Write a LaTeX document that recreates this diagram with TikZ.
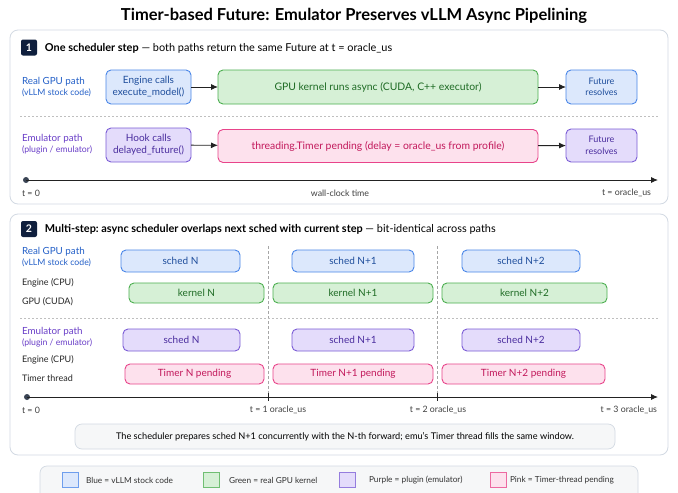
\documentclass[tikz,border=0pt]{standalone}
\usepackage{fontspec}
\setmainfont{Lato}
\usetikzlibrary{arrows.meta}
\definecolor{bluefill}{HTML}{DCE8FC}
\definecolor{bluedraw}{HTML}{4A86E8}
\definecolor{bluetext}{HTML}{1F4E9C}
\definecolor{greenfill}{HTML}{D6F0D6}
\definecolor{greendraw}{HTML}{4CAF50}
\definecolor{greentext}{HTML}{1E6B24}
\definecolor{purplefill}{HTML}{E4DCFB}
\definecolor{purpledraw}{HTML}{7B5CD6}
\definecolor{purpletext}{HTML}{4A2D9E}
\definecolor{pinkfill}{HTML}{FDE1ED}
\definecolor{pinkdraw}{HTML}{E8448A}
\definecolor{pinktext}{HTML}{C2185B}
\definecolor{navy}{HTML}{0F1F3D}
\definecolor{panelline}{HTML}{D3DAE3}
\definecolor{notefill}{HTML}{F6F7F8}
\definecolor{labblue}{HTML}{2460C8}
\definecolor{labpurple}{HTML}{6A3FC8}
\definecolor{axis}{HTML}{222222}
\definecolor{axisdot}{HTML}{3A4454}
\begin{document}
\begin{tikzpicture}[x=1pt,y=-1pt,
  every node/.style={inner sep=0pt,outer sep=0pt},
  panel/.style={draw=panelline,line width=0.8pt,rounded corners=8pt,fill=white},
  bx/.style={rounded corners=5pt,line width=0.9pt,align=center,font=\fontsize{10}{12}\selectfont},
  bluebox/.style={bx,draw=bluedraw,fill=bluefill,text=bluetext},
  greenbox/.style={bx,draw=greendraw,fill=greenfill,text=greentext},
  purplebox/.style={bx,draw=purpledraw,fill=purplefill,text=purpletext},
  pinkbox/.style={bx,draw=pinkdraw,fill=pinkfill,text=pinktext},
  pathlab/.style={anchor=west,align=left,font=\fontsize{9.8}{12}\selectfont},
  rowlab/.style={anchor=west,font=\fontsize{9}{10}\selectfont,text=black!85},
  ticklab/.style={font=\fontsize{8.8}{10}\selectfont,text=black!75},
  conn/.style={-{Latex[length=7pt,width=6pt]},line width=0.9pt,draw=axis},
  sep/.style={draw=black!25,line width=0.6pt,dash pattern=on 2pt off 2pt},
  vsep/.style={draw=black!35,line width=0.6pt,dash pattern=on 2.5pt off 2.5pt},
  badge/.style={fill=navy,text=white,rounded corners=2pt,minimum size=16pt,font=\bfseries\fontsize{10.5}{12}\selectfont},
  legsq/.style={draw,line width=0.7pt,minimum width=16pt,minimum height=15pt},
  legtxt/.style={anchor=west,font=\fontsize{8.3}{10}\selectfont,text=black!80}
]
\useasboundingbox (0,0) rectangle (678,493);
\fill[white] (0,0) rectangle (678,493);

% title
\node[font=\bfseries\fontsize{16.5}{19}\selectfont] (title) at (354,16) {Timer-based Future: Emulator Preserves vLLM Async Pipelining};

% ---------------- Panel 1
\draw[panel] (10,30) rectangle (668,204);
\node[badge] (b1) at (29,47.5) {1};
\node[anchor=west,font=\fontsize{10.9}{12}\selectfont] (h1) at (45,48) {\textbf{One scheduler step} — both paths return the same Future at t = oracle\_us};

\node[pathlab] (rl1) at (22,87) {\textcolor{labblue}{Real GPU path}\\[-1pt]\textcolor{labblue}{\fontsize{8.7}{11}\selectfont(vLLM stock code)}};
\node[bluebox,minimum width=85pt,minimum height=34pt] (eng) at (148.5,87) {Engine calls\\execute\_model()};
\node[greenbox,minimum width=320pt,minimum height=34pt,font=\fontsize{10.4}{12}\selectfont] (gk) at (378,87) {GPU kernel runs async (CUDA, C++ executor)};
\node[bluebox,minimum width=71pt,minimum height=34pt,font=\fontsize{9}{11.5}\selectfont] (fr1) at (601.5,87) {Future\\resolves};
\draw[conn] (eng) -- (gk);
\draw[conn] (gk) -- (fr1);

\coordinate (s1a) at (20,116);
\coordinate (s1b) at (658,116);
\draw[sep] (s1a) -- (s1b);

\node[pathlab] (el1) at (22,144) {\textcolor{labpurple}{Emulator path}\\[-1pt]\textcolor{labpurple}{\fontsize{8.7}{11}\selectfont(plugin / emulator)}};
\node[purplebox,minimum width=85pt,minimum height=34pt] (hook) at (148.5,145) {Hook calls\\delayed\_future()};
\node[pinkbox,minimum width=320pt,minimum height=33pt,font=\fontsize{10.4}{12}\selectfont] (tp) at (378,146) {threading.Timer pending (delay = oracle\_us from profile)};
\node[purplebox,minimum width=71pt,minimum height=33pt,font=\fontsize{9}{11.5}\selectfont] (fr2) at (601.5,145.5) {Future\\resolves};
\draw[conn] (hook) -- (tp);
\draw[conn] (tp) -- (fr2);

\coordinate (ax1a) at (26,180);
\coordinate (ax1b) at (658,180);
\fill[axisdot] (ax1a) circle (3pt);
\draw[conn] (ax1a) -- (ax1b);
\node[ticklab,anchor=west] (t0a) at (22,193) {t = 0};
\node[ticklab] (wct) at (340,193) {wall-clock time};
\node[ticklab,anchor=east] (toa) at (651,193) {t = oracle\_us};

% ---------------- Panel 2
\draw[panel] (10,214) rectangle (668,455);
\node[badge] (b2) at (29,229) {2};
\node[anchor=west,font=\fontsize{10.9}{12}\selectfont] (h2) at (45,229) {\textbf{Multi-step:\ async scheduler overlaps next sched with current step} — bit-identical across paths};

\node[pathlab] (rl2) at (22,257) {\textcolor{labblue}{Real GPU path}\\[-1pt]\textcolor{labblue}{\fontsize{8.7}{11}\selectfont(vLLM stock code)}};
\node[rowlab] (ec1) at (22,283) {Engine (CPU)};
\node[rowlab] (gc) at (22,302) {GPU (CUDA)};

\coordinate (v1a) at (268,246);
\coordinate (v1b) at (268,396);
\coordinate (v2a) at (437,246);
\coordinate (v2b) at (437,396);
\draw[vsep] (v1a) -- (v1b);
\draw[vsep] (v2a) -- (v2b);

\node[bluebox,minimum width=119pt,minimum height=22pt] (sn0) at (180.5,261) {sched N};
\node[bluebox,minimum width=122pt,minimum height=22pt] (sn1) at (353,261) {sched N+1};
\node[bluebox,minimum width=118pt,minimum height=22pt] (sn2) at (521,261) {sched N+2};
\node[greenbox,minimum width=135pt,minimum height=20pt] (kn0) at (196.5,293) {kernel N};
\node[greenbox,minimum width=160pt,minimum height=20pt] (kn1) at (353,293) {kernel N+1};
\node[greenbox,minimum width=165pt,minimum height=20pt] (kn2) at (524.5,293) {kernel N+2};

\coordinate (s2a) at (20,318);
\coordinate (s2b) at (658,318);
\draw[sep] (s2a) -- (s2b);

\node[pathlab] (el2) at (22,337) {\textcolor{labpurple}{Emulator path}\\[-1pt]\textcolor{labpurple}{\fontsize{8.7}{11}\selectfont(plugin / emulator)}};
\node[rowlab] (ec2) at (22,360) {Engine (CPU)};
\node[rowlab] (tt) at (22,378) {Timer thread};

\node[purplebox,minimum width=117pt,minimum height=22pt] (pn0) at (181.5,340) {sched N};
\node[purplebox,minimum width=122pt,minimum height=22pt] (pn1) at (353,340) {sched N+1};
\node[purplebox,minimum width=118pt,minimum height=22pt] (pn2) at (521,340) {sched N+2};
\node[pinkbox,minimum width=139pt,minimum height=20pt] (tn0) at (194.5,374) {Timer N pending};
\node[pinkbox,minimum width=160pt,minimum height=20pt] (tn1) at (353,374) {Timer N+1 pending};
\node[pinkbox,minimum width=163pt,minimum height=20pt] (tn2) at (523.5,374) {Timer N+2 pending};

\coordinate (ax2a) at (27,397);
\coordinate (ax2b) at (658,397);
\fill[axisdot] (ax2a) circle (3pt);
\draw[conn] (ax2a) -- (ax2b);
\coordinate (tk1a) at (268,393);
\coordinate (tk1b) at (268,401);
\coordinate (tk2a) at (437,393);
\coordinate (tk2b) at (437,401);
\draw[line width=0.9pt,draw=axis] (tk1a) -- (tk1b);
\draw[line width=0.9pt,draw=axis] (tk2a) -- (tk2b);
\node[ticklab,anchor=west] (t0b) at (22,410) {t = 0};
\node[ticklab] (t1b) at (278,410) {t = 1 oracle\_us};
\node[ticklab] (t2b) at (438,410) {t = 2 oracle\_us};
\node[ticklab,anchor=east] (t3b) at (657,410) {t = 3 oracle\_us};

\node[draw=panelline,fill=notefill,rounded corners=7pt,line width=0.7pt,minimum width=540pt,minimum height=25pt,font=\fontsize{9.2}{11}\selectfont] (note) at (345,436.5) {The scheduler prepares sched N+1 concurrently with the N-th forward; emu's Timer thread fills the same window.};

% ---------------- Legend
\draw[draw=panelline,fill=notefill,rounded corners=7pt,line width=0.7pt] (40,466) rectangle (638,505);
\node[legsq,draw=bluedraw!80,fill=bluefill] (lq1) at (70,480) {};
\node[legtxt] (lt1) at (86,480) {Blue = vLLM stock code};
\node[legsq,draw=greendraw!80,fill=greenfill] (lq2) at (211,480) {};
\node[legtxt] (lt2) at (229,480) {Green = real GPU kernel};
\node[legsq,draw=purpledraw!80,fill=purplefill] (lq3) at (347,480) {};
\node[legtxt] (lt3) at (369,480) {Purple = plugin (emulator)};
\node[legsq,draw=pinkdraw!80,fill=pinkfill] (lq4) at (498,480) {};
\node[legtxt] (lt4) at (510,480) {Pink = Timer-thread pending};
\end{tikzpicture}
\end{document}
